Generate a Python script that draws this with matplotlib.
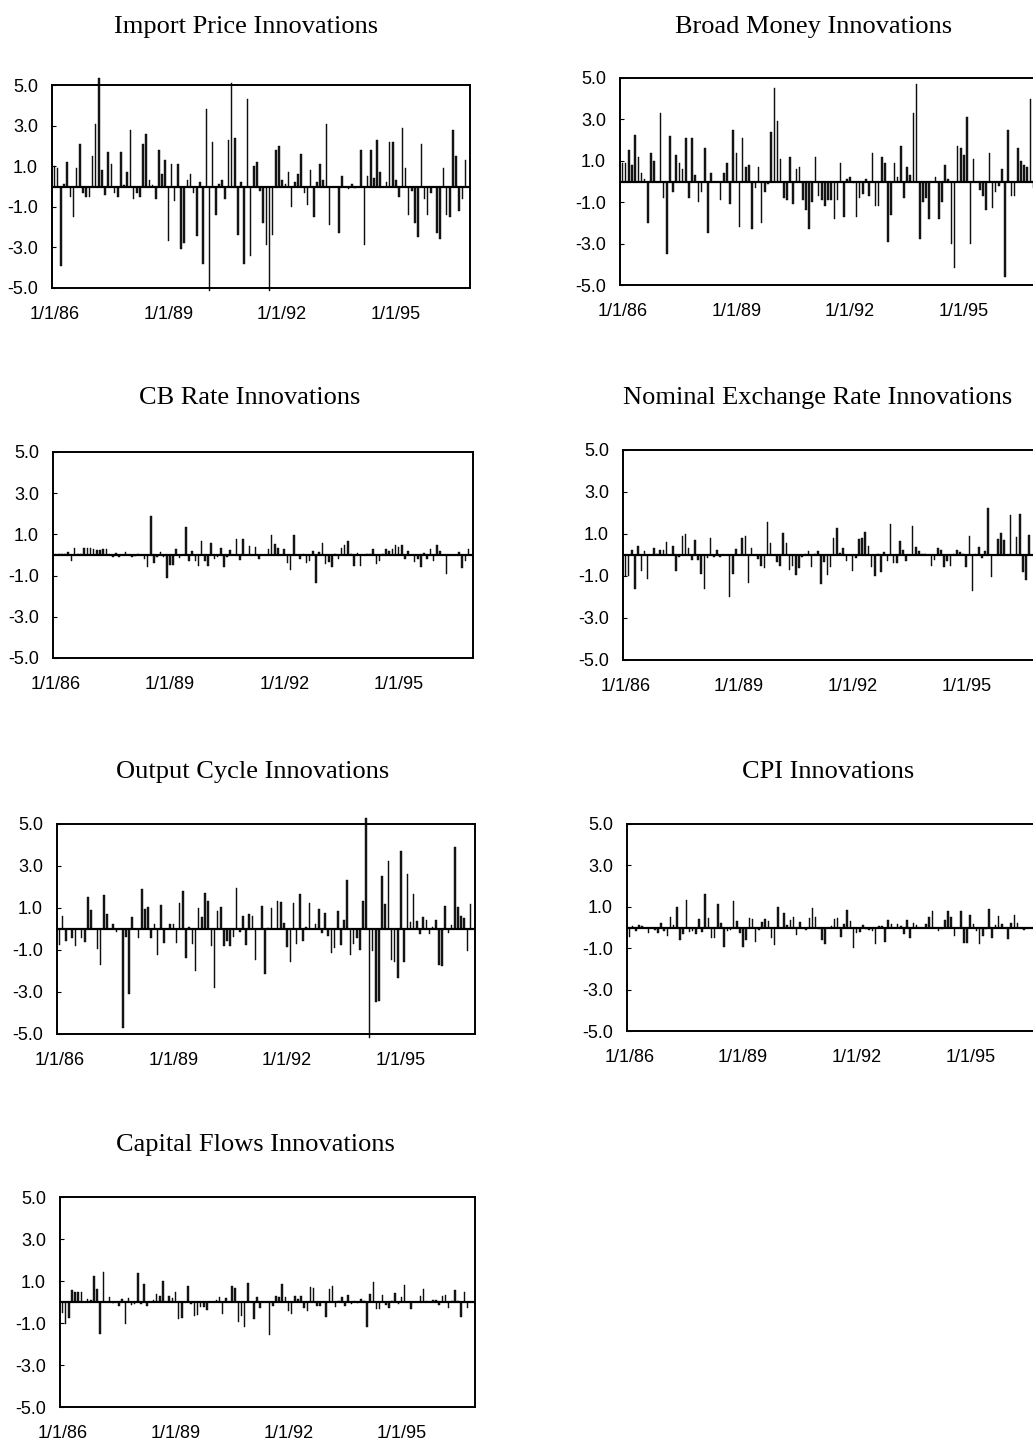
import numpy as np
import pandas as pd
import matplotlib
matplotlib.use("Agg")
import matplotlib.pyplot as plt

# ── monthly innovation series, Jan 1986 onward ───────────────────────
import_price = [
    1.0, 0.9, -3.9, 0.1, 1.2, -0.5, -1.5, 0.9, 2.1, -0.3,
    -0.5, -0.5, 1.5, 3.1, 5.35, 0.8, -0.4, 1.7, 1.1, -0.3,
    -0.5, 1.7, 0.05, 0.7, 2.8, -0.6, -0.3, -0.5, 2.1, 2.6,
    0.3, 0.05, -0.6, 1.8, 0.6, 1.3, -2.7, 1.1, -0.7, 1.1,
    -3.1, -2.8, 0.3, 0.6, -0.3, -2.45, 0.2, -3.8, 3.8, -5.15,
    2.2, -1.4, 0.1, 0.3, -0.6, 2.3, 5.1, 2.4, -2.4, 0.2,
    -3.8, 4.3, -3.4, 1.0, 1.2, -0.2, -1.8, -2.9, -5.15, -2.4,
    1.8, 2.0, 0.3, 0.1, 0.7, -1.0, 0.2, 0.6, 1.6, -0.3,
    -0.9, 0.8, -1.5, 0.2, 1.1, 0.3, 3.1, -1.9, 0.0, 0.0,
    -2.3, 0.5, 0.0, -0.1, 0.1, -0.05, 0.0, 1.8, -2.9, 0.5,
    1.8, 0.4, 2.3, 0.7, 0.0, 0.2, 2.2, 2.2, 0.3, -0.5,
    2.9, 0.9, -1.4, -0.2, -1.8, -2.5, 2.1, -0.6, -1.4, -0.3,
    0.0, -2.3, -2.6, 0.9, -1.4, -1.5, 2.8, 1.5, -1.2, -0.6,
    1.3,
]

broad_money = [
    0.9, 0.9, 1.5, 0.8, 2.25, 1.2, 0.4, 0.1, -2.0, 1.4,
    1.0, 0.0, 3.3, -0.8, -3.5, 2.2, -0.5, 1.3, 0.9, 0.6,
    2.1, -0.8, 2.1, 0.3, -1.0, -0.5, 1.6, -2.5, 0.4, 0.0,
    0.0, -0.9, 0.4, 0.9, -1.1, 2.5, 1.4, -2.2, 2.1, 0.7,
    0.8, -2.3, -0.3, 0.7, -2.0, -0.5, -0.1, 2.4, 4.5, 2.9,
    1.1, -0.8, -0.9, 1.2, -1.1, 0.6, 0.7, -0.9, -1.4, -2.3,
    -1.0, 1.2, -0.7, -0.9, -1.2, -0.9, -0.9, -1.8, -0.9, 0.9,
    -1.7, 0.1, 0.2, -0.05, -1.7, -0.8, -0.6, 0.1, -0.7, 1.4,
    -1.2, -1.2, 1.2, 0.9, -2.9, -1.6, 0.9, 0.2, 1.7, -0.8,
    0.7, 0.3, 3.3, 4.7, -2.8, -1.0, -0.8, -1.8, 0.0, 0.2,
    -1.8, -1.0, 0.8, 0.1, -3.0, -4.2, 1.7, 1.6, 1.3, 3.1,
    -3.0, 1.1, 0.0, -0.4, -0.7, -1.4, 1.4, -1.3, -0.5, -0.2,
    0.6, -4.6, 2.5, -0.7, -0.7, 1.6, 1.0, 0.8, 0.7, 4.0,
    -0.3,
]

cb_rate = [
    0.05, 0.05, 0.05, 0.05, 0.15, -0.3, 0.35, 0.05, 0.05, 0.35,
    0.35, 0.35, 0.3, 0.25, 0.25, 0.3, 0.3, 0.05, -0.1, 0.1,
    -0.1, 0.0, 0.15, 0.0, -0.1, -0.05, 0.05, 0.0, -0.2, -0.6,
    1.9, -0.4, -0.1, 0.15, -0.1, -1.1, -0.5, -0.5, 0.3, -0.15,
    0.0, 1.35, -0.3, 0.2, -0.3, -0.55, 0.7, -0.3, -0.55, 0.6,
    -0.2, -0.1, 0.35, -0.6, -0.1, 0.25, 0.0, 0.8, -0.25, 0.8,
    0.0, 0.45, 0.0, 0.4, -0.2, 0.0, 0.0, 0.3, 0.95, 0.55,
    0.35, 0.0, 0.3, -0.4, -0.75, 0.95, 0.0, -0.2, 0.05, -0.4,
    -0.3, 0.2, -1.35, 0.15, 0.6, -0.45, -0.35, -0.6, 0.05, -0.2,
    0.35, 0.5, 0.7, 0.05, -0.55, 0.1, -0.55, 0.0, 0.05, 0.05,
    0.3, -0.45, -0.3, 0.05, 0.3, 0.2, 0.3, 0.5, 0.4, 0.5,
    -0.2, 0.2, 0.0, -0.35, -0.2, -0.6, 0.1, -0.2, 0.3, -0.3,
    0.5, 0.2, 0.0, -0.9, 0.0, 0.0, 0.0, 0.15, -0.65, -0.3,
    0.3,
]

exchange_rate = [
    -1.0, -1.0, 0.25, -1.6, 0.45, -0.75, 0.2, -1.15, 0.0, 0.35,
    0.05, 0.25, 0.25, 0.6, 0.0, 0.45, -0.75, -0.1, 0.9, 1.0,
    0.35, -0.25, 0.7, -0.25, -0.9, -1.6, -0.15, 0.8, -0.1, 0.25,
    -0.1, 0.0, 0.0, -2.0, -0.9, 0.3, 0.0, 0.8, 0.9, -1.35,
    0.35, 0.0, -0.2, -0.5, -0.6, 1.55, 0.55, 0.0, -0.35, -0.5,
    1.05, 0.55, -0.7, -0.5, -0.95, -0.6, -0.1, 0.05, 0.2, -0.55,
    0.05, 0.2, -1.4, -0.35, -0.95, -0.55, 0.8, 1.3, 0.1, 0.35,
    -0.3, 0.0, -0.75, -0.15, 0.75, 0.8, 1.1, 0.45, -0.55, -1.0,
    0.05, -0.8, 0.15, -0.3, 1.5, -0.4, -0.4, 0.65, 0.25, -0.3,
    0.0, 1.4, 0.4, 0.2, 0.05, 0.05, 0.0, -0.5, -0.25, 0.35,
    0.25, -0.55, -0.3, -0.5, 0.05, 0.25, 0.15, 0.05, -0.55, 0.9,
    -1.7, 0.05, 0.4, -0.15, 0.2, 2.25, -1.05, 0.0, 0.75, 1.05,
    0.7, 0.0, 1.9, 0.0, 0.85, 1.95, -0.8, -1.2, 0.95,
]

output_cycle = [
    -0.75, 0.6, -0.55, 0.0, -0.45, -0.8, 0.0, -0.45, -0.6, 1.5,
    0.9, 0.0, -0.95, -1.7, 1.6, 0.7, 0.0, 0.25, -0.15, 0.0,
    -4.7, -0.4, -3.1, 0.55, 0.0, -0.45, 1.9, 0.95, 1.05, -0.45,
    0.25, -1.25, 1.15, -0.65, 0.0, 0.25, 0.25, -0.65, 1.25, 1.8,
    -1.4, 0.1, -0.7, -2.0, 1.0, 0.55, 1.7, 1.35, -0.8, -2.8,
    0.85, 1.05, -0.8, -0.55, -0.8, -0.4, 1.95, -0.15, 0.6, -0.75,
    0.7, 0.6, -1.5, 0.0, 1.1, -2.15, 0.05, 1.0, 0.0, 1.35,
    1.3, 0.3, -0.85, -1.55, 1.25, -0.7, 1.65, -0.55, 0.1, 1.25,
    0.0, 0.25, 0.95, -0.2, 0.75, -0.35, -1.15, -0.9, 0.85, -0.75,
    0.45, 2.35, -1.25, -0.7, -0.45, -1.0, 1.35, 5.3, -5.2, -1.05,
    -3.5, -3.45, 2.5, 1.2, 3.25, -1.5, -1.55, -2.35, 3.7, -1.55,
    2.6, 0.35, 1.65, 0.4, -0.25, 0.55, 0.45, -0.25, 0.1, 0.45,
    -1.7, -1.75, 1.1, -0.2, 0.2, 3.9, 1.05, 0.6, 0.5, -1.05,
    1.2,
]

cpi = [
    -0.45, 0.05, -0.15, 0.1, 0.05, 0.0, -0.25, 0.0, -0.1, -0.25,
    0.2, -0.15, -0.4, 0.5, 0.1, 1.0, -0.6, -0.3, 1.35, -0.2,
    -0.15, -0.3, 0.4, -0.2, 1.6, 0.45, -0.5, -0.5, 1.15, 0.2,
    -0.95, -0.15, -0.1, 1.3, 0.3, -0.25, -0.95, -0.6, 0.45, 0.4,
    -0.7, -0.1, 0.25, 0.4, 0.3, -0.5, -0.85, 1.0, 0.0, 0.7,
    0.1, 0.35, 0.5, -0.35, 0.25, 0.0, -0.1, 0.45, 0.95, 0.5,
    -0.05, -0.6, -0.8, 0.0, 0.05, 0.4, 0.45, -0.45, 0.15, 0.85,
    0.3, -1.0, -0.25, -0.2, 0.1, -0.05, -0.1, -0.15, -0.8, 0.05,
    0.05, -0.7, 0.35, 0.15, 0.0, 0.15, 0.05, -0.3, 0.35, -0.5,
    0.2, 0.1, 0.0, 0.0, 0.15, 0.5, 0.8, 0.0, -0.15, -0.05,
    0.35, 0.8, 0.5, -0.4, 0.0, 0.8, -0.75, -0.75, 0.6, 0.15,
    -0.15, -0.8, -0.4, -0.05, 0.9, -0.5, 0.1, 0.55, 0.15, 0.0,
    -0.55, 0.2, 0.6, 0.2, 0.0, -0.1,
]

capital_flows = [
    -0.5, -1.05, -0.75, 0.55, 0.5, 0.5, 0.5, 0.0, 0.15, 0.1,
    1.25, 0.6, -1.5, 1.45, 0.0, 0.25, -0.05, 0.0, -0.2, 0.15,
    -1.05, 0.2, -0.15, -0.1, 1.4, -0.1, 0.85, -0.2, 0.0, 0.1,
    0.4, 0.3, 1.0, 0.0, 0.3, 0.2, 0.5, -0.8, -0.75, 0.0,
    0.75, -0.1, -0.65, -0.6, -0.25, -0.25, -0.4, 0.0, 0.0, 0.1,
    0.25, -0.55, 0.2, 0.0, 0.75, 0.65, -0.95, -0.65, -1.2, 0.9,
    0.0, -0.8, 0.25, -0.3, 0.0, 0.0, -1.55, -0.2, 0.3, 0.25,
    0.85, 0.25, -0.45, -0.55, 0.3, 0.15, 0.3, -0.3, -0.45, 0.7,
    0.65, -0.2, -0.2, 0.0, -0.7, 0.6, 0.75, -0.25, 0.05, 0.25,
    -0.2, 0.35, -0.1, 0.05, -0.05, 0.15, 0.05, -1.2, 0.4, 0.95,
    -0.35, -0.35, 0.35, -0.15, -0.3, 0.05, 0.45, -0.1, 0.25, 0.8,
    0.0, -0.35, 0.0, 0.0, 0.3, 0.6, 0.05, 0.0, 0.1, 0.1,
    -0.15, 0.3, 0.35, -0.3, 0.05, 0.55, 0.05, -0.7, 0.5, -0.3,
]

y_ticks = [5.0, 3.0, 1.0, -1.0, -3.0, -5.0]
date_labels = ["1/1/86", "1/1/89", "1/1/92", "1/1/95"]
date_ticks = [0, 36, 72, 108]   # months since Jan 1986

# ── layout (pixel boxes: left, top, right, bottom) ──────────────────
W, H = 1033, 1443
panels = [
    ("Import Price Innovations", import_price, (52, 85, 470, 288), (246, 27)),
    ("Broad Money Innovations", broad_money, (620, 78, 1038, 285), (814, 27)),
    ("CB Rate Innovations", cb_rate, (53, 452, 473, 658), (250, 398)),
    ("Nominal Exchange Rate Innovations", exchange_rate, (623, 450, 1040, 660), (818, 398)),
    ("Output Cycle Innovations", output_cycle, (57, 824, 475, 1034), (253, 772)),
    ("CPI Innovations", cpi, (627, 824, 1044, 1031), (828, 772)),
    ("Capital Flows Innovations", capital_flows, (60, 1197, 475, 1407), (255, 1145)),
]

TICK_FONT = "Liberation Sans"
TITLE_FONT = "Liberation Serif"

fig = plt.figure(figsize=(W / 100, H / 100), dpi=100)
fig.patch.set_facecolor("white")

for title, series, (x0, y0, x1, y1), (tx, ty) in panels:
    ax = fig.add_axes([x0 / W, 1 - y1 / H, (x1 - x0) / W, (y1 - y0) / H])
    vals = np.array(series)
    months = np.arange(len(vals))

    # thin black spikes; a few run past the +/-5 frame
    ax.bar(months, vals, width=0.5, color="#1a1a1a", edgecolor="black",
           linewidth=0.3, clip_on=False, zorder=2)
    ax.axhline(0, color="black", linewidth=1.6, zorder=3)

    ax.set_xlim(-0.8, 131.4)
    ax.set_ylim(-5.0, 5.0)
    ax.set_yticks(y_ticks)
    ax.set_yticklabels([f"{v:.1f}" for v in y_ticks],
                       fontname=TICK_FONT, fontsize=13)
    ax.set_xticks(date_ticks)
    ax.set_xticklabels(date_labels, fontname=TICK_FONT, fontsize=13)
    ax.tick_params(axis="y", direction="in", length=3, width=0.8, pad=10)
    ax.tick_params(axis="x", length=0, pad=13)
    for sp in ax.spines.values():
        sp.set_linewidth(1.4)
        sp.set_color("black")

    fig.text(tx / W, 1 - ty / H, title, fontname=TITLE_FONT, fontsize=19,
             ha="center", va="center")

plt.savefig("out.png", dpi=100)
